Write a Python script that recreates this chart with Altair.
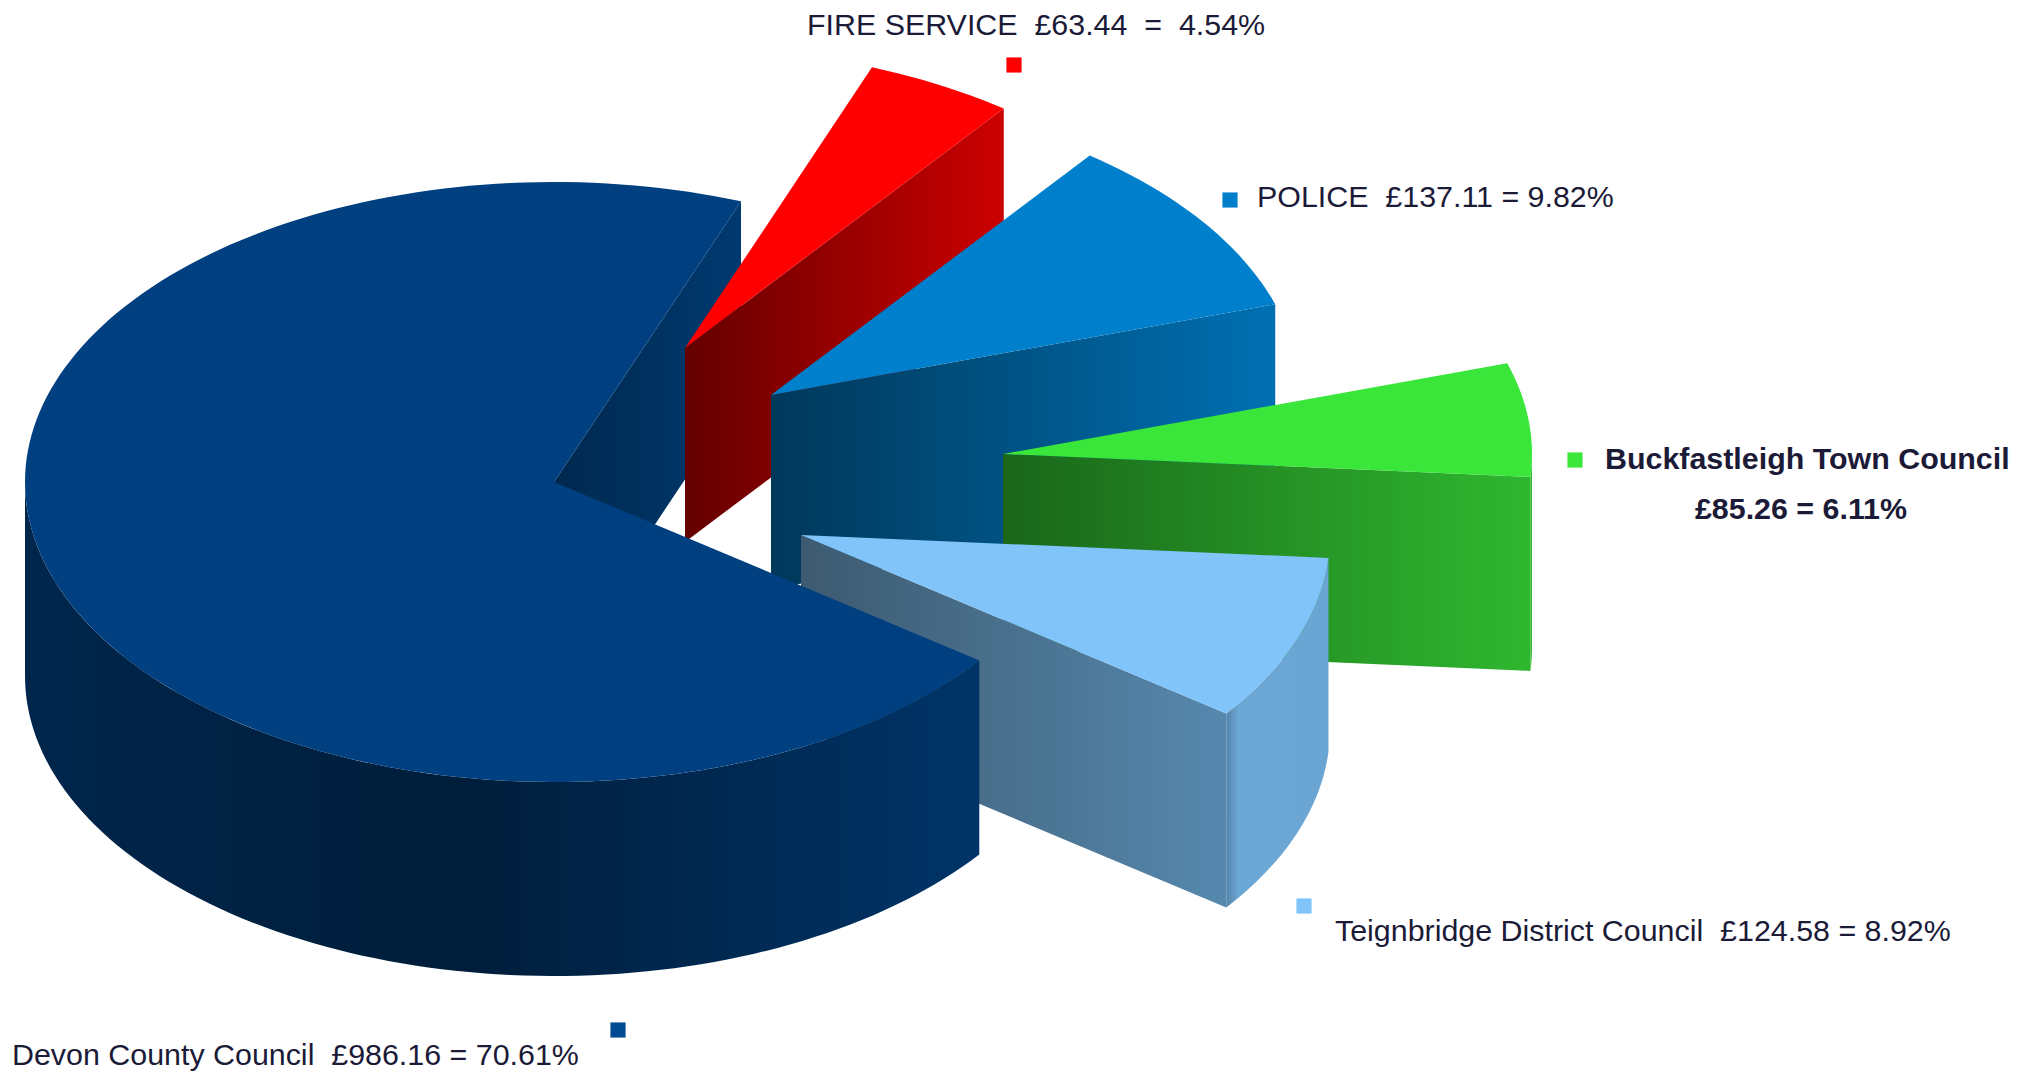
import math
import altair as alt
import pandas as pd

# ---- chart values ----
names = ["FIRE SERVICE", "POLICE", "Buckfastleigh Town Council",
         "Teignbridge District Council", "Devon County Council"]
pounds = [63.44, 137.11, 85.26, 124.58, 986.16]
percents = ["4.54%", "9.82%", "6.11%", "8.92%", "70.61%"]

# ---- layout (page pixels) ----
W, H = 2008, 1064
START = 69.3
RX, RY, DEPTH = 529, 300, 194
APEX = [(685, 348), (771, 395), (1003, 454), (801, 535), (554, 482)]
TOPS = ["#fe0000", "#0080cc", "#39e639", "#80c4fa", "#003f80"]
WALLS = [
    [(0, "#640000"), (1, "#cc0000")],
    [(0, "#00385a"), (1, "#0070b3")],
    [(0, "#1a661a"), (1, "#2fb82f")],
    [(0, "#3d5a70"), (1, "#5688ae")],
    [(0, "#00284f"), (1, "#003a70")],
]
RIMS = [
    None, None,
    [(0, "#2fb82f"), (1, "#2fb82f")],
    [(0, "#5585aa"), (0.12, "#6ca8d6"), (1, "#6aa4d2")],
    [(0, "#00264c"), (0.45, "#001d3a"), (1, "#003468")],
]
GAP = "\u00a0\u00a0"

sx = alt.Scale(domain=[8, 8 + W], range=[0, W], nice=False, zero=False)
sy = alt.Scale(domain=[8, 8 + H], range=[0, H], nice=False, zero=False)


def grad(stops):
    return alt.Gradient(
        gradient="linear", x1=0, y1=0, x2=1, y2=0,
        stops=[alt.GradientStop(offset=o, color=c) for o, c in stops],
    )


def face(points, fill):
    df = pd.DataFrame(points, columns=["x", "y"])
    df["i"] = range(len(df))
    return (
        alt.Chart(df)
        .mark_line(fill=fill, stroke=None, strokeWidth=0, interpolate="linear-closed", clip=False)
        .encode(
            x=alt.X("x:Q", scale=sx, axis=None),
            y=alt.Y("y:Q", scale=sy, axis=None),
            order="i:Q",
        )
    )


def rim_pt(apex, deg, drop=0):
    a = math.radians(deg)
    return (apex[0] + RX * math.cos(a), apex[1] - RY * math.sin(a) + drop)


def arc(apex, a0, a1, drop=0):
    n = max(2, int(abs(a1 - a0) / 1.5) + 1)
    return [rim_pt(apex, a0 + (a1 - a0) * k / n, drop) for k in range(n + 1)]


back, front = [], []
total = sum(pounds)
a = START
for idx, v in enumerate(pounds):
    sweep = 360 * v / total
    a0, a1 = a, a - sweep
    a = a1
    ap = APEX[idx]
    # flat cut wall at the clockwise end of the slice;
    # the big slice's wall sits behind every exploded slice
    p = rim_pt(ap, a1)
    q = rim_pt(ap, a1, DEPTH)
    wall = face([ap, p, q, (ap[0], ap[1] + DEPTH)], grad(WALLS[idx]))
    (back if idx == 4 else front).append(wall)
    # outer wall: the part of the rim on the front half of the ellipse
    if RIMS[idx]:
        r0, r1 = min(a0, 0), max(a1, -180)
        pts = arc(ap, r0, r1) + arc(ap, r1, r0, DEPTH)
        front.append(face(pts, grad(RIMS[idx])))
    # top face
    front.append(face([ap] + arc(ap, a0, a1), TOPS[idx]))
layers = back + front

# ---- labels ----
label_rows = [
    (807, 26, f"{names[0]}{GAP}£{pounds[0]:.2f}{GAP}={GAP}{percents[0]}", "left", "normal"),
    (1257, 198, f"{names[1]}{GAP}£{pounds[1]:.2f} = {percents[1]}", "left", "normal"),
    (1605, 460, names[2], "left", "bold"),
    (1801, 510, f"£{pounds[2]:.2f} = {percents[2]}", "center", "bold"),
    (1335, 932, f"{names[3]}{GAP}£{pounds[3]:.2f} = {percents[3]}", "left", "normal"),
    (12, 1056, f"{names[4]}{GAP}£{pounds[4]:.2f} = {percents[4]}", "left", "normal"),
]
for x, y, t, al, wt in label_rows:
    layers.append(
        alt.Chart(pd.DataFrame({"x": [x], "y": [y], "t": [t]}))
        .mark_text(font="Liberation Sans", fontSize=30.4, color="#1b1b38", align=al,
                   baseline="middle", fontWeight=wt)
        .encode(x=alt.X("x:Q", scale=sx, axis=None), y=alt.Y("y:Q", scale=sy, axis=None), text="t:N")
    )

keys = pd.DataFrame({
    "x": [1014, 1230, 1575, 1304, 618],
    "y": [65, 200, 460, 906, 1030],
    "c": ["#fe0000", "#0080cc", "#39e639", "#80c4fa", "#004b91"],
    "n": names,
})
layers.append(
    alt.Chart(keys)
    .mark_square(size=230, opacity=1)
    .encode(
        x=alt.X("x:Q", scale=sx, axis=None),
        y=alt.Y("y:Q", scale=sy, axis=None),
        color=alt.Color("c:N", scale=None, legend=None),
    )
)

chart = (
    alt.layer(*layers)
    .properties(width=W, height=H, padding=0, autosize=alt.AutoSizeParams(type="none"), background="#ffffff")
    .configure_view(stroke=None)
)
chart.save("out.html", embed_options={"renderer": "svg", "actions": False})
